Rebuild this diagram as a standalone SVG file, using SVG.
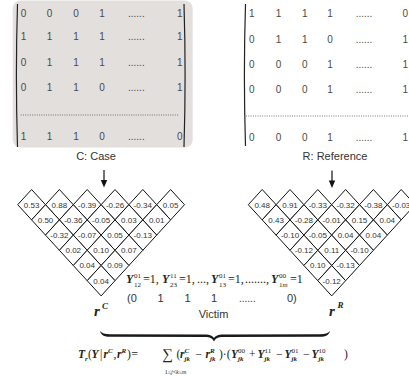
<svg xmlns="http://www.w3.org/2000/svg" width="409" height="386" viewBox="0 0 409 386">
<style>
.m{font-family:"Liberation Sans",Arial,sans-serif;font-size:10px;fill:#4a4a4a}
.lb{font-family:"Liberation Sans",Arial,sans-serif;font-size:11px;fill:#333}
.d{font-family:"Liberation Sans",Arial,sans-serif;font-size:8px;fill:#333;text-anchor:middle}
.br{fill:none;stroke:#222;stroke-width:1.2}
.dot{stroke:#555;stroke-width:0.8;stroke-dasharray:1 1.3}
.dm{fill:#fff;stroke:#111;stroke-width:1}
.s{font-family:"Liberation Serif","Times New Roman",serif;fill:#222}
.bi{font-weight:bold;font-style:italic}
.sm{font-size:7px}
</style>
<defs>
<polygon id="dia" class="dm" points="0,-15.2 13.9,0 0,15.2 -13.9,0"/>
</defs>

<g id="case-matrix">
<rect x="12.7" y="0.5" width="180" height="147" rx="8" fill="#e3dfdc"/>
<path class="br" d="M17.5,4 Q15.3,75 17.5,147"/>
<path class="br" d="M184,4 Q186.2,75 184,147"/>
<g class="m">
<text y="17"><tspan x="20.7">0</tspan><tspan x="46.7">0</tspan><tspan x="73.3">0</tspan><tspan x="99.3">1</tspan><tspan x="128">......</tspan><tspan x="177">1</tspan></text>
<text y="39.5"><tspan x="20.7">1</tspan><tspan x="46.7">1</tspan><tspan x="73.3">1</tspan><tspan x="99.3">1</tspan><tspan x="128">......</tspan><tspan x="177">1</tspan></text>
<text y="65.5"><tspan x="20.7">0</tspan><tspan x="46.7">1</tspan><tspan x="73.3">1</tspan><tspan x="99.3">1</tspan><tspan x="128">......</tspan><tspan x="177">1</tspan></text>
<text y="90.5"><tspan x="20.7">0</tspan><tspan x="46.7">1</tspan><tspan x="73.3">1</tspan><tspan x="99.3">0</tspan><tspan x="128">......</tspan><tspan x="177">1</tspan></text>
<text y="140"><tspan x="20.7">1</tspan><tspan x="46.7">1</tspan><tspan x="73.3">1</tspan><tspan x="99.3">0</tspan><tspan x="128">......</tspan><tspan x="177">0</tspan></text>
</g>
<line class="dot" x1="20.7" y1="115" x2="179.3" y2="115"/>
<text class="lb" x="96" y="160" text-anchor="middle">C: Case</text>
</g>

<g id="reference-matrix">
<path class="br" d="M245.5,4 Q243.3,75 245.5,146"/>
<g class="m">
<text y="17"><tspan x="249">1</tspan><tspan x="275.7">1</tspan><tspan x="302">1</tspan><tspan x="327.3">1</tspan><tspan x="355.7">......</tspan><tspan x="402.5">0</tspan></text>
<text y="43"><tspan x="249">0</tspan><tspan x="275.7">1</tspan><tspan x="302">1</tspan><tspan x="327.3">0</tspan><tspan x="355.7">......</tspan><tspan x="402.5">1</tspan></text>
<text y="68"><tspan x="249">0</tspan><tspan x="275.7">0</tspan><tspan x="302">0</tspan><tspan x="327.3">1</tspan><tspan x="355.7">......</tspan><tspan x="402.5">1</tspan></text>
<text y="93"><tspan x="249">0</tspan><tspan x="275.7">0</tspan><tspan x="302">0</tspan><tspan x="327.3">1</tspan><tspan x="355.7">......</tspan><tspan x="402.5">1</tspan></text>
<text y="140.5"><tspan x="249">0</tspan><tspan x="275.7">0</tspan><tspan x="302">0</tspan><tspan x="327.3">1</tspan><tspan x="355.7">......</tspan><tspan x="402.5">1</tspan></text>
</g>
<line class="dot" x1="246" y1="116" x2="409" y2="116"/>
<text class="lb" x="335" y="160" text-anchor="middle">R: Reference</text>
</g>

<g id="connectors">
<line x1="104" y1="170" x2="104" y2="181" stroke="#111" stroke-width="1.2"/>
<path d="M100.8,180 L107.2,180 L104,187.5 Z" fill="#111"/>
<line x1="332" y1="170.5" x2="332" y2="181.5" stroke="#111" stroke-width="1.2"/>
<path d="M328.8,180.5 L335.2,180.5 L332,188 Z" fill="#111"/>
<path id="brace" fill="#1a1a1a" d="M100,331 C101,335 104,336.8 110,336.8 L205,337 C210,337 212,338 214,341.5 C216,338 218,337 223,337 L320,336.8 C326,336.8 329,335 330,331 C328,333.5 325,334.2 320,334.2 L223,334.4 C218,334.4 215.5,335.8 214,338 C212.5,335.8 210,334.4 205,334.4 L110,334.2 C105,334.2 102,333.5 100,331 Z"/>
</g>

<g id="rC-triangle">
<use href="#dia" x="31.6" y="204.7"/><use href="#dia" x="59.4" y="204.7"/><use href="#dia" x="87.2" y="204.7"/><use href="#dia" x="115" y="204.7"/><use href="#dia" x="142.8" y="204.7"/><use href="#dia" x="170.6" y="204.7"/>
<use href="#dia" x="45.5" y="219.9"/><use href="#dia" x="73.3" y="219.9"/><use href="#dia" x="101.1" y="219.9"/><use href="#dia" x="128.9" y="219.9"/><use href="#dia" x="156.7" y="219.9"/>
<use href="#dia" x="59.4" y="235.1"/><use href="#dia" x="87.2" y="235.1"/><use href="#dia" x="115" y="235.1"/><use href="#dia" x="142.8" y="235.1"/>
<use href="#dia" x="73.3" y="250.3"/><use href="#dia" x="101.1" y="250.3"/><use href="#dia" x="128.9" y="250.3"/>
<use href="#dia" x="87.2" y="265.5"/><use href="#dia" x="115" y="265.5"/>
<use href="#dia" x="101.1" y="280.7"/>
<g class="d">
<text x="31.6" y="207.5">0.53</text><text x="59.4" y="207.5">0.88</text><text x="87.2" y="207.5">-0.39</text><text x="115" y="207.5">-0.26</text><text x="142.8" y="207.5">-0.34</text><text x="170.6" y="207.5">0.05</text>
<text x="45.5" y="222.7">0.50</text><text x="73.3" y="222.7">-0.36</text><text x="101.1" y="222.7">-0.05</text><text x="128.9" y="222.7">0.03</text><text x="156.7" y="222.7">0.01</text>
<text x="59.4" y="237.9">-0.32</text><text x="87.2" y="237.9">-0.07</text><text x="115" y="237.9">0.05</text><text x="142.8" y="237.9">-0.13</text>
<text x="73.3" y="253.1">0.02</text><text x="101.1" y="253.1">0.10</text><text x="128.9" y="253.1">0.07</text>
<text x="87.2" y="268.3">0.04</text><text x="115" y="268.3">0.09</text>
<text x="101.1" y="283.5">0.04</text>
</g>
<text class="s bi" x="94" y="316" font-size="15">r</text>
<text class="s bi" x="102" y="309" font-size="9">C</text>
</g>

<g id="rR-triangle">
<use href="#dia" x="262.2" y="204.7"/><use href="#dia" x="290" y="204.7"/><use href="#dia" x="317.8" y="204.7"/><use href="#dia" x="345.6" y="204.7"/><use href="#dia" x="373.4" y="204.7"/><use href="#dia" x="401.2" y="204.7"/>
<use href="#dia" x="276.1" y="219.9"/><use href="#dia" x="303.9" y="219.9"/><use href="#dia" x="331.7" y="219.9"/><use href="#dia" x="359.5" y="219.9"/><use href="#dia" x="387.3" y="219.9"/>
<use href="#dia" x="290" y="235.1"/><use href="#dia" x="317.8" y="235.1"/><use href="#dia" x="345.6" y="235.1"/><use href="#dia" x="373.4" y="235.1"/>
<use href="#dia" x="303.9" y="250.3"/><use href="#dia" x="331.7" y="250.3"/><use href="#dia" x="359.5" y="250.3"/>
<use href="#dia" x="317.8" y="265.5"/><use href="#dia" x="345.6" y="265.5"/>
<use href="#dia" x="331.7" y="280.7"/>
<g class="d">
<text x="262.2" y="207.5">0.48</text><text x="290" y="207.5">0.91</text><text x="317.8" y="207.5">-0.33</text><text x="345.6" y="207.5">-0.32</text><text x="373.4" y="207.5">-0.38</text><text x="401.2" y="207.5">-0.03</text>
<text x="276.1" y="222.7">0.43</text><text x="303.9" y="222.7">-0.28</text><text x="331.7" y="222.7">-0.01</text><text x="359.5" y="222.7">0.15</text><text x="387.3" y="222.7">0.04</text>
<text x="290" y="237.9">-0.10</text><text x="317.8" y="237.9">-0.05</text><text x="345.6" y="237.9">0.04</text><text x="373.4" y="237.9">0.04</text>
<text x="303.9" y="253.1">-0.12</text><text x="331.7" y="253.1">0.11</text><text x="359.5" y="253.1">-0.10</text>
<text x="317.8" y="268.3">0.10</text><text x="345.6" y="268.3">-0.13</text>
<text x="331.7" y="283.5">-0.12</text>
</g>
<text class="s bi" x="329" y="316" font-size="15">r</text>
<text class="s bi" x="337.5" y="308" font-size="9">R</text>
</g>

<g id="victim">
<g class="s" font-size="12">
<text class="bi" x="126" y="283">Y</text><text class="sm" x="134" y="277.5">01</text><text class="sm" x="134" y="287">12</text><text x="143" y="283">=1,</text>
<text class="bi" x="162" y="283">Y</text><text class="sm" x="170" y="277.5">11</text><text class="sm" x="170" y="287">23</text><text x="179" y="283">=1,</text>
<text x="197" y="283">...,</text>
<text class="bi" x="211" y="283">Y</text><text class="sm" x="219" y="277.5">01</text><text class="sm" x="219" y="287">13</text><text x="228" y="283">=1,</text>
<text x="245" y="283">.......,</text>
<text class="bi" x="271" y="283">Y</text><text class="sm" x="279" y="277.5">00</text><text class="sm" x="279" y="287">1<tspan font-style="italic">m</tspan></text><text x="290" y="283">=1</text>
</g>
<text class="lb" y="302"><tspan x="127">(0</tspan><tspan x="157.5">1</tspan><tspan x="184.5">1</tspan><tspan x="211">1</tspan><tspan x="239" font-size="10">......</tspan><tspan x="287">0)</tspan></text>
<text class="lb" x="213.5" y="318" font-size="12" text-anchor="middle">Victim</text>
</g>

<g id="formula" class="s" font-size="11.5">
<text class="bi" x="78" y="358">T</text><text class="bi sm" x="85" y="361">r</text>
<text x="88" y="358">(</text><text class="bi" x="91.5" y="358">Y</text>
<text x="100" y="358">|</text>
<text class="bi" x="103.5" y="358">r</text><text class="bi sm" x="108" y="353">C</text>
<text x="113.5" y="358">,</text>
<text class="bi" x="117" y="358">r</text><text class="bi sm" x="121.5" y="353">R</text>
<text x="127" y="358">)</text>
<text x="131.5" y="358">=</text>
<text x="162" y="359" font-size="15">∑</text>
<text x="175.5" y="374" font-size="6" text-anchor="middle">1≤<tspan font-style="italic">j</tspan>&lt;<tspan font-style="italic">k</tspan>≤<tspan font-style="italic">m</tspan></text>
<text x="176.5" y="358">(</text>
<text class="bi" x="180" y="358">r</text><text class="bi sm" x="184.5" y="353">C</text><text class="bi sm" x="184.5" y="361">jk</text>
<text x="195.5" y="358">−</text>
<text class="bi" x="205.5" y="358">r</text><text class="bi sm" x="210" y="353">R</text><text class="bi sm" x="210" y="361">jk</text>
<text x="219" y="358">)·(</text>
<text class="bi" x="231" y="358">Y</text><text class="sm" x="238" y="353">00</text><text class="bi sm" x="238" y="361">jk</text>
<text x="249" y="358">+</text>
<text class="bi" x="257.5" y="358">Y</text><text class="sm" x="264.5" y="353">11</text><text class="bi sm" x="264.5" y="361">jk</text>
<text x="276" y="358">−</text>
<text class="bi" x="284.5" y="358">Y</text><text class="sm" x="291.5" y="353">01</text><text class="bi sm" x="291.5" y="361">jk</text>
<text x="303" y="358">−</text>
<text class="bi" x="311.5" y="358">Y</text><text class="sm" x="318.5" y="353">10</text><text class="bi sm" x="318.5" y="361">jk</text>
<text x="344" y="358">)</text>
</g>
</svg>
